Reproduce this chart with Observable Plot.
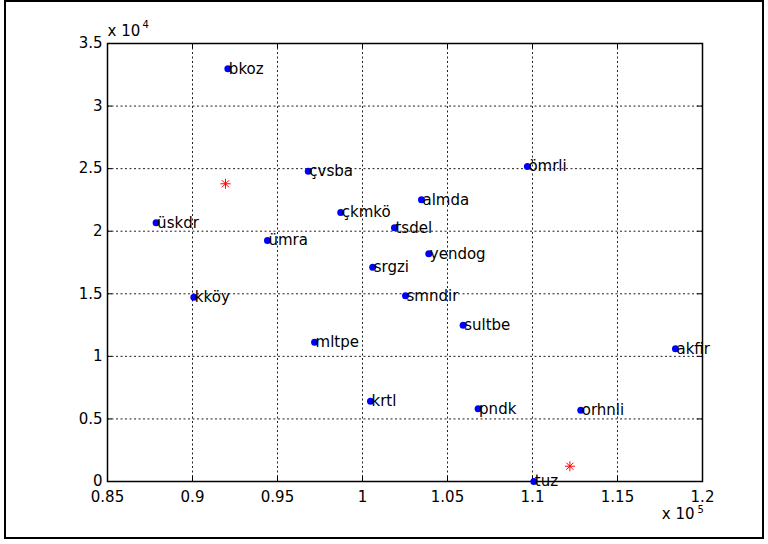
<!DOCTYPE html>
<html>
<head>
<meta charset="utf-8">
<script src="https://cdn.jsdelivr.net/npm/d3@7"></script>
<script src="https://cdn.jsdelivr.net/npm/@observablehq/plot@0.6"></script>
<style>
  html, body { margin: 0; padding: 0; background: #fff; }
  #wrap { position: relative; width: 768px; height: 544px; }
  #border { position: absolute; left: 4px; top: 0px; width: 760px; height: 539px; border: 2px solid #000; box-sizing: border-box; pointer-events: none; }
  svg { display: block; }
</style>
</head>
<body>
<div id="wrap"><div id="border"></div></div>
<script>
// Site names and coordinates (x in raw units, shown as x 10^5; y raw, shown as x 10^4)
const names = ["bkoz", "çvsba", "ömrli", "almda", "çkmkö", "üskdr", "tsdel", "ümra", "yendog", "srgzi",
               "kköy", "smndir", "sultbe", "mltpe", "akfir", "krtl", "pndk", "orhnli", "tuz"];
const xs = [92080, 96810, 109700, 103470, 98720, 87860, 101880, 94410, 103900, 100600,
            90080, 102530, 105920, 97180, 118410, 100470, 106800, 112840, 110080];
const ys = [32980, 24800, 25170, 22510, 21500, 20670, 20270, 19260, 18200, 17130,
            14730, 14840, 12490, 11130, 10600, 6420, 5810, 5700, 0];

// Red asterisk points (cluster centres)
const centerX = [91940, 112200];
const centerY = [23790, 1220];

// Axis ticks
const xTicks = [85000, 90000, 95000, 100000, 105000, 110000, 115000, 120000];
const xTickLabels = ["0.85", "0.9", "0.95", "1", "1.05", "1.1", "1.15", "1.2"];
const yTicks = [0, 5000, 10000, 15000, 20000, 25000, 30000, 35000];
const yTickLabels = ["0", "0.5", "1", "1.5", "2", "2.5", "3", "3.5"];

const points = names.map((n, i) => ({name: n, x: xs[i], y: ys[i]}));
const centers = centerX.map((x, i) => ({x, y: centerY[i]}));

const asterisk = {
  draw(ctx, size) {
    const r = Math.sqrt(size / Math.PI);
    const d = r * Math.SQRT1_2;
    ctx.moveTo(-r, 0); ctx.lineTo(r, 0);
    ctx.moveTo(0, -r); ctx.lineTo(0, r);
    ctx.moveTo(-d, -d); ctx.lineTo(d, d);
    ctx.moveTo(-d, d); ctx.lineTo(d, -d);
  }
};

const gridStyle = {stroke: "#222", strokeOpacity: 1, strokeDasharray: "2,2.5", strokeWidth: 1};
const fs = 15;

const chart = Plot.plot({
  width: 768,
  height: 544,
  marginLeft: 107,
  marginRight: 66,
  marginTop: 43,
  marginBottom: 63,
  style: {fontFamily: "'DejaVu Sans', sans-serif", fontSize: fs + "px", background: "transparent", color: "#000"},
  x: {domain: [85000, 120000], label: null},
  y: {domain: [0, 35000], label: null},
  marks: [
    Plot.gridX(xTicks, gridStyle),
    Plot.gridY(yTicks, gridStyle),
    Plot.axisX(xTicks, {anchor: "bottom", tickSize: 0, tickPadding: 10, tickFormat: (d, i) => xTickLabels[i], fontSize: fs, label: null}),
    Plot.axisY(yTicks, {anchor: "left", tickSize: 0, tickPadding: 5, tickFormat: (d, i) => yTickLabels[i], fontSize: fs, label: null}),
    Plot.tickX(xTicks, {x: d => d, y: null, insetTop: 433, stroke: "#000"}),
    Plot.tickX(xTicks, {x: d => d, y: null, insetBottom: 433, stroke: "#000"}),
    Plot.tickY(yTicks, {y: d => d, x: null, insetRight: 590, stroke: "#000"}),
    Plot.tickY(yTicks, {y: d => d, x: null, insetLeft: 590, stroke: "#000"}),
    Plot.frame({stroke: "#000", strokeWidth: 1.5}),
    Plot.dot(centers, {x: "x", y: "y", symbol: asterisk, r: 5, stroke: "#ff0000", strokeWidth: 1, fill: "none"}),
    Plot.dot(points, {x: "x", y: "y", r: 3.5, fill: "#0000ff", stroke: null}),
    Plot.text(points, {x: "x", y: "y", text: "name", textAnchor: "start", dx: 1, fontSize: fs, fill: "#000"}),
    Plot.text(["x 10"], {frameAnchor: "top-left", textAnchor: "start", lineAnchor: "bottom", dy: -8, fontSize: fs}),
    Plot.text(["4"], {frameAnchor: "top-left", textAnchor: "start", lineAnchor: "bottom", dx: 35, dy: -16, fontSize: 10}),
    Plot.text(["x 10"], {frameAnchor: "bottom-right", textAnchor: "end", lineAnchor: "bottom", dx: -8, dy: 37, fontSize: fs}),
    Plot.text(["5"], {frameAnchor: "bottom-right", textAnchor: "start", lineAnchor: "bottom", dx: -5, dy: 31, fontSize: 10})
  ]
});
document.getElementById("wrap").prepend(chart);
</script>
</body>
</html>
